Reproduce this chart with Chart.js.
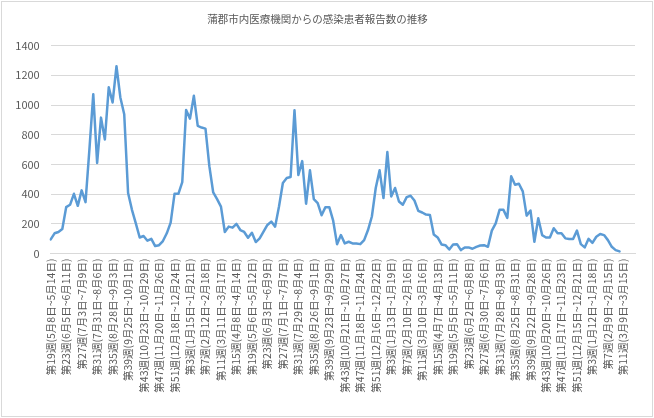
<!DOCTYPE html>
<html lang="ja">
<head>
<meta charset="utf-8">
<title>蒲郡市内医療機関からの感染患者報告数の推移</title>
<script src="https://cdn.jsdelivr.net/npm/chart.js@4/dist/chart.umd.min.js"></script>
<style>
  html, body { margin: 0; padding: 0; background: #fff; }
  #wrap { width: 654px; height: 418px; }
</style>
</head>
<body>
<div id="wrap"><canvas id="casesChart" width="654" height="418"></canvas></div>
<script>
// Axis labels shown every 4 weeks (as printed on the original chart)
const tickLabels = [
    '第19週(5月8日~5月14日)', '第23週(6月5日~6月11日)', '第27週(7月3日~7月9日)',
    '第31週(7月31日~8月6日)', '第35週(8月28日~9月3日)', '第39週(9月25日~10月1日)',
    '第43週(10月23日~10月29日)', '第47週(11月20日~11月26日)', '第51週(12月18日~12月24日)',
    '第3週(1月15日~1月21日)', '第7週(2月12日~2月18日)', '第11週(3月11日~3月17日)',
    '第15週(4月8日~4月14日)', '第19週(5月6日~5月12日)', '第23週(6月3日~6月9日)',
    '第27週(7月1日~7月7日)', '第31週(7月29日~8月4日)', '第35週(8月26日~9月1日)',
    '第39週(9月23日~9月29日)', '第43週(10月21日~10月27日)', '第47週(11月18日~11月24日)',
    '第51週(12月16日~12月22日)', '第3週(1月13日~1月19日)', '第7週(2月10日~2月16日)',
    '第11週(3月10日~3月16日)', '第15週(4月7日~4月13日)', '第19週(5月5日~5月11日)',
    '第23週(6月2日~6月8日)', '第27週(6月30日~7月6日)', '第31週(7月28日~8月3日)',
    '第35週(8月25日~8月31日)', '第39週(9月22日~9月28日)', '第43週(10月20日~10月26日)',
    '第47週(11月17日~11月23日)', '第51週(12月15日~12月21日)', '第3週(1月12日~1月18日)',
    '第7週(2月9日~2月15日)', '第11週(3月9日~3月15日)'
];

// Number of weekly slots on the axis (last few weeks have no report yet)
const weekCount = 152;

// Weekly reported cases
const cases = [
    95, 136, 145, 165, 312, 328, 402, 321, 425, 346,
    700, 1073, 610, 915, 768, 1119, 1017, 1261, 1051, 938,
    407, 294, 203, 108, 118, 86, 99, 50, 56, 84,
    136, 208, 402, 402, 481, 967, 908, 1062, 859, 848,
    841, 588, 411, 366, 316, 145, 181, 174, 199, 158,
    145, 106, 140, 77, 102, 147, 192, 215, 181, 316,
    475, 508, 515, 965, 529, 622, 335, 560, 366, 339,
    258, 312, 312, 221, 63, 124, 68, 79, 68, 68,
    63, 90, 158, 249, 441, 560, 373, 683, 384, 441,
    350, 328, 380, 389, 357, 287, 276, 262, 260, 128,
    108, 61, 56, 27, 61, 63, 23, 41, 41, 32,
    45, 54, 56, 45, 154, 203, 294, 294, 240, 520,
    463, 470, 418, 255, 289, 79, 237, 124, 108, 108,
    170, 136, 136, 102, 97, 97, 154, 63, 41, 99,
    72, 113, 131, 124, 90, 45, 23, 14
];

const yTicks = [0, 200, 400, 600, 800, 1000, 1200, 1400];

// category list: a label every 4th week, blank otherwise
const weeks = [];
for (let i = 0; i < weekCount; i++) {
    weeks.push(i % 4 === 0 ? tickLabels[i / 4] : '');
}

const textColor = '#595959';
const gridColor = '#D9D9D9';
const jpFont = "'Noto Sans CJK JP', 'Noto Sans', sans-serif";

// light frame round the whole chart, like the spreadsheet chart area
const framePlugin = {
    id: 'frame',
    beforeDraw(chart) {
        const ctx = chart.ctx;
        ctx.save();
        ctx.fillStyle = '#fff';
        ctx.fillRect(0, 0, chart.width, chart.height);
        ctx.strokeStyle = gridColor;
        ctx.lineWidth = 1;
        ctx.strokeRect(1.5, 1.5, chart.width - 3, chart.height - 3);
        ctx.restore();
    }
};

const ctx = document.getElementById('casesChart').getContext('2d');
new Chart(ctx, {
    type: 'line',
    data: {
        labels: weeks,
        datasets: [{
            label: '感染患者報告数',
            data: cases,
            borderColor: '#5B9BD5',
            backgroundColor: '#5B9BD5',
            borderWidth: 2.5,
            borderCapStyle: 'round',
            borderJoinStyle: 'round',
            pointRadius: 0,
            tension: 0,
            fill: false
        }]
    },
    options: {
        responsive: false,
        animation: false,
        layout: {
            padding: { top: 4, right: 19, bottom: 0, left: 0 }
        },
        plugins: {
            legend: { display: false },
            tooltip: { enabled: false },
            title: {
                display: true,
                text: '蒲郡市内医療機関からの感染患者報告数の推移',
                color: textColor,
                font: { family: jpFont, size: 10.5, weight: 'normal' },
                padding: { top: 9, bottom: 20 }
            }
        },
        scales: {
            x: {
                offset: false,
                grid: { display: false, drawTicks: false },
                border: { display: true, color: gridColor, width: 1 },
                ticks: {
                    autoSkip: false,
                    maxRotation: 90,
                    minRotation: 90,
                    padding: 5,
                    color: textColor,
                    font: { family: jpFont, size: 10.5 }
                },
                afterFit(scale) {
                    scale.height = 164.5;
                }
            },
            y: {
                min: 0,
                max: 1400,
                afterBuildTicks(scale) {
                    scale.ticks = yTicks.map(v => ({ value: v }));
                },
                grid: { color: gridColor, drawTicks: false },
                border: { display: false },
                ticks: {
                    padding: 11,
                    color: textColor,
                    font: { family: jpFont, size: 11 },
                    callback: function (value) {
                        return String(value);
                    }
                },
                afterFit(scale) {
                    scale.width = 50.7;
                }
            }
        }
    },
    plugins: [framePlugin]
});
</script>
</body>
</html>
